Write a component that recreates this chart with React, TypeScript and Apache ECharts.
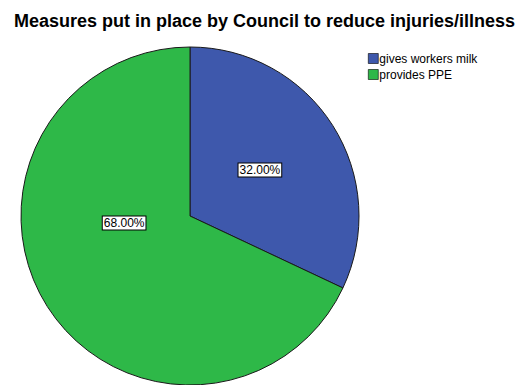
import React, { useEffect, useRef } from "react";
import * as echarts from "echarts";

const categories = ["gives workers milk", "provides PPE"];
const values = [32.0, 68.0];
const colors = ["#3E58AC", "#2EB848"];
const labelOffsets: [number, number][] = [[-4, 1], [8, -40]];

export default function App() {
  const ref = useRef<HTMLDivElement>(null);
  useEffect(() => {
    if (!ref.current) return;
    const chart = echarts.init(ref.current, null, { renderer: "svg" });
    chart.setOption({
      animation: false,
      backgroundColor: "#ffffff",
      title: {
        text: "Measures put in place by Council to reduce injuries/illness",
        left: 9,
        top: 7,
        textStyle: { fontFamily: "Liberation Sans, Arial, sans-serif", fontSize: 18, fontWeight: "bold", color: "#000" },
      },
      legend: {
        orient: "vertical",
        left: 363,
        top: 47,
        itemWidth: 10,
        itemHeight: 10,
        itemGap: 3,
        icon: "rect",
        data: categories,
        itemStyle: { borderColor: "#000", borderWidth: 0.6 },
        textStyle: { fontFamily: "Liberation Sans, Arial, sans-serif", fontSize: 12, lineHeight: 13, color: "#000", padding: [0, 0, 0, -4] },
      },
      series: [
        {
          type: "pie",
          center: [190, 216],
          radius: 169,
          startAngle: 90,
          clockwise: true,
          avoidLabelOverlap: false,
          itemStyle: { borderColor: "#1a1a1a", borderWidth: 1 },
          label: {
            show: true,
            position: "inside",
            formatter: (p: any) => p.value.toFixed(2) + "%",
            fontFamily: "Liberation Sans, Arial, sans-serif",
            fontSize: 12,
            color: "#000",
            backgroundColor: "#fff",
            borderColor: "#000",
            borderWidth: 1,
            padding: [1, 1, 0, 1],
          },
          labelLine: { show: false },
          data: categories.map((name, i) => ({
            name,
            value: values[i],
            itemStyle: { color: colors[i] },
            label: { offset: labelOffsets[i] },
          })),
        },
      ],
    });
    return () => chart.dispose();
  }, []);
  return <div ref={ref} style={{ position: "fixed", left: 0, top: 0, width: 521, height: 385 }} />;
}
